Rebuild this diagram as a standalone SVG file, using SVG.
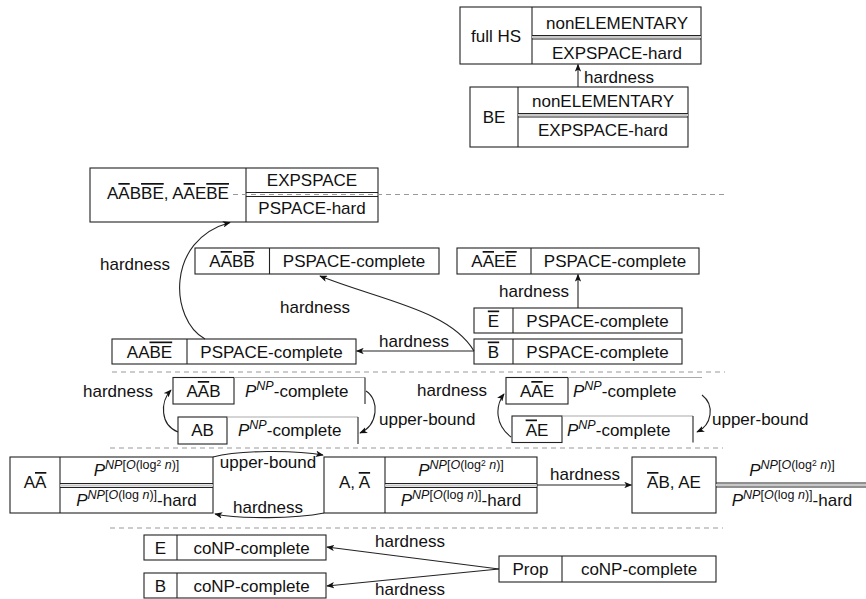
<svg xmlns="http://www.w3.org/2000/svg" width="866" height="599" viewBox="0 0 866 599">
<defs>
<marker id="ah" viewBox="0 0 10 8" refX="9" refY="4" markerWidth="8" markerHeight="6.4" markerUnits="userSpaceOnUse" orient="auto">
<path d="M0,0 L10,4 L0,8 L2.5,4 z" fill="#111"/>
</marker>
<style>
text{font-family:"Liberation Sans",Arial,sans-serif;font-size:17px;fill:#111}
.m{text-anchor:middle}
.i{font-style:italic}
.sup{font-size:12.5px}
.sup2{font-size:8.5px}
.ol{text-decoration:overline}
.box{fill:#fff;stroke:#222;stroke-width:1.1}
.ln{stroke:#222;stroke-width:1.1;fill:none}
.lg{stroke:#aaa;stroke-width:1.1;fill:none}
.gm{stroke:#c8c8c8;stroke-width:2;fill:none}
.dash{stroke:#999;stroke-width:1.1;stroke-dasharray:5 4;fill:none}
.c{stroke:#222;stroke-width:1.1;fill:none;marker-end:url(#ah)}
</style>
</defs>
<rect width="866" height="599" fill="#fff"/>

<g id="n-fullhs">
<rect class="box" x="460" y="7" width="241" height="57"/>
<line class="ln" x1="532" y1="7" x2="532" y2="64"/>
<line class="gm" x1="532" y1="37" x2="701" y2="37"/>
<line class="ln" x1="532" y1="35.5" x2="701" y2="35.5"/>
<line class="ln" x1="532" y1="39" x2="701" y2="39"/>
<text class="m" x="496" y="41.5">full HS</text>
<text class="m" x="617" y="29">nonELEMENTARY</text>
<text class="m" x="617" y="59">EXPSPACE-hard</text>
</g>

<g id="n-be">
<rect class="box" x="470" y="87" width="218" height="60"/>
<line class="ln" x1="518" y1="87" x2="518" y2="147"/>
<line class="gm" x1="518" y1="115" x2="688" y2="115"/>
<line class="ln" x1="518" y1="113.5" x2="688" y2="113.5"/>
<line class="ln" x1="518" y1="117" x2="688" y2="117"/>
<text class="m" x="494" y="122.5">BE</text>
<text class="m" x="603" y="107">nonELEMENTARY</text>
<text class="m" x="603" y="136">EXPSPACE-hard</text>
</g>

<g id="n-aabbe">
<rect class="box" x="90" y="168" width="288" height="54"/>
<line class="ln" x1="246" y1="168" x2="246" y2="222"/>
<line class="ln" x1="246" y1="192.5" x2="378" y2="192.5"/>
<line class="ln" x1="246" y1="196.5" x2="378" y2="196.5"/>
<text class="m" x="168" y="199">A<tspan class="ol">A</tspan>B<tspan class="ol">BE</tspan>, A<tspan class="ol">A</tspan>E<tspan class="ol">BE</tspan></text>
<text class="m" x="312" y="186">EXPSPACE</text>
<text class="m" x="312" y="214">PSPACE-hard</text>
</g>

<g id="separators">
<line class="dash" x1="233" y1="194.5" x2="725" y2="194.5"/>
<line class="dash" x1="112" y1="372" x2="725" y2="372"/>
<line class="dash" x1="110" y1="448" x2="723" y2="448"/>
<line class="dash" x1="110" y1="528" x2="723" y2="528"/>
</g>

<g id="n-aabb">
<rect class="box" x="195" y="248" width="244" height="26"/>
<line class="ln" x1="269.5" y1="248" x2="269.5" y2="274"/>
<text class="m" x="232" y="267">A<tspan class="ol">A</tspan>B<tspan class="ol">B</tspan></text>
<text class="m" x="354" y="267">PSPACE-complete</text>
</g>

<g id="n-aaee">
<rect class="box" x="457" y="248" width="242" height="26"/>
<line class="ln" x1="531" y1="248" x2="531" y2="274"/>
<text class="m" x="494" y="267">A<tspan class="ol">A</tspan>E<tspan class="ol">E</tspan></text>
<text class="m" x="615" y="267">PSPACE-complete</text>
</g>

<g id="n-e-bar">
<rect class="box" x="474" y="308" width="208" height="25"/>
<line class="ln" x1="513" y1="308" x2="513" y2="333"/>
<text class="m" x="493.5" y="326.5"><tspan class="ol">E</tspan></text>
<text class="m" x="597.5" y="326.5">PSPACE-complete</text>
</g>

<g id="n-b-bar">
<rect class="box" x="474" y="339" width="208" height="25"/>
<line class="ln" x1="513" y1="339" x2="513" y2="364"/>
<text class="m" x="493.5" y="357.5"><tspan class="ol">B</tspan></text>
<text class="m" x="597.5" y="357.5">PSPACE-complete</text>
</g>

<g id="n-aabe">
<rect class="box" x="112" y="339" width="244" height="25"/>
<line class="ln" x1="187" y1="339" x2="187" y2="364"/>
<text class="m" x="149.5" y="357.5">AA<tspan class="ol">BE</tspan></text>
<text class="m" x="271.5" y="357.5">PSPACE-complete</text>
</g>

<g id="n-aab">
<rect class="box" x="173" y="377.5" width="61" height="26.5"/>
<line class="lg" x1="234" y1="377.5" x2="365" y2="377.5"/>
<line class="ln" x1="365" y1="377.5" x2="365" y2="404" stroke="#666"/>
<text class="m" x="203.5" y="397">A<tspan class="ol">A</tspan>B</text>
<text x="245" y="397"><tspan class="i">P</tspan><tspan class="sup i" dy="-7">NP</tspan><tspan dy="7">-complete</tspan></text>
</g>

<g id="n-ab">
<rect class="box" x="178" y="417" width="49" height="27"/>
<line class="lg" x1="227" y1="417" x2="358" y2="417"/>
<line class="ln" x1="358" y1="417" x2="358" y2="444" stroke="#666"/>
<text class="m" x="202.5" y="436">AB</text>
<text x="238" y="436"><tspan class="i">P</tspan><tspan class="sup i" dy="-7">NP</tspan><tspan dy="7">-complete</tspan></text>
</g>

<g id="n-aae">
<rect class="box" x="506" y="377.5" width="62" height="26.5"/>
<line class="lg" x1="568" y1="377.5" x2="702" y2="377.5"/>
<text class="m" x="537" y="397">A<tspan class="ol">A</tspan>E</text>
<text x="573" y="397"><tspan class="i">P</tspan><tspan class="sup i" dy="-7">NP</tspan><tspan dy="7">-complete</tspan></text>
</g>

<g id="n-ae-bar">
<rect class="box" x="512" y="416" width="50" height="26.5"/>
<line class="lg" x1="562" y1="416" x2="693" y2="416"/>
<line class="ln" x1="693" y1="416" x2="693" y2="442.5"/>
<text class="m" x="537" y="435.5"><tspan class="ol">A</tspan>E</text>
<text x="567" y="435.5"><tspan class="i">P</tspan><tspan class="sup i" dy="-7">NP</tspan><tspan dy="7">-complete</tspan></text>
</g>

<g id="n-aa-bar">
<rect class="box" x="10" y="457" width="203" height="56"/>
<line class="ln" x1="60" y1="457" x2="60" y2="513"/>
<line class="gm" x1="60" y1="485.5" x2="213" y2="485.5"/>
<line class="ln" x1="60" y1="483.5" x2="213" y2="483.5"/>
<line class="ln" x1="60" y1="487.5" x2="213" y2="487.5"/>
<text class="m" x="35" y="488">A<tspan class="ol">A</tspan></text>
<text class="m" x="136.5" y="476"><tspan class="i">P</tspan><tspan class="sup" dy="-7"><tspan class="i">NP</tspan>[<tspan class="i">O</tspan>(log</tspan><tspan class="sup2" dy="-3">2</tspan><tspan class="sup" dy="3"> <tspan class="i">n</tspan>)]</tspan></text>
<text class="m" x="136.5" y="506"><tspan class="i">P</tspan><tspan class="sup" dy="-7"><tspan class="i">NP</tspan>[<tspan class="i">O</tspan>(log <tspan class="i">n</tspan>)]</tspan><tspan dy="7">-hard</tspan></text>
</g>

<g id="n-a-abar">
<rect class="box" x="324" y="457" width="213" height="56"/>
<line class="ln" x1="385" y1="457" x2="385" y2="513"/>
<line class="gm" x1="385" y1="485.5" x2="537" y2="485.5"/>
<line class="ln" x1="385" y1="483.5" x2="537" y2="483.5"/>
<line class="ln" x1="385" y1="487.5" x2="537" y2="487.5"/>
<text class="m" x="354.5" y="488">A, <tspan class="ol">A</tspan></text>
<text class="m" x="461" y="476"><tspan class="i">P</tspan><tspan class="sup" dy="-7"><tspan class="i">NP</tspan>[<tspan class="i">O</tspan>(log</tspan><tspan class="sup2" dy="-3">2</tspan><tspan class="sup" dy="3"> <tspan class="i">n</tspan>)]</tspan></text>
<text class="m" x="461" y="506"><tspan class="i">P</tspan><tspan class="sup" dy="-7"><tspan class="i">NP</tspan>[<tspan class="i">O</tspan>(log <tspan class="i">n</tspan>)]</tspan><tspan dy="7">-hard</tspan></text>
</g>

<g id="n-abar-b-ae">
<rect class="box" x="632" y="457" width="84" height="56"/>
<line class="gm" x1="716" y1="485" x2="866" y2="485"/>
<line class="ln" x1="716" y1="483" x2="866" y2="483"/>
<line class="ln" x1="716" y1="487" x2="866" y2="487"/>
<text class="m" x="674" y="488"><tspan class="ol">A</tspan>B, AE</text>
<text class="m" x="792" y="476"><tspan class="i">P</tspan><tspan class="sup" dy="-7"><tspan class="i">NP</tspan>[<tspan class="i">O</tspan>(log</tspan><tspan class="sup2" dy="-3">2</tspan><tspan class="sup" dy="3"> <tspan class="i">n</tspan>)]</tspan></text>
<text class="m" x="792" y="506"><tspan class="i">P</tspan><tspan class="sup" dy="-7"><tspan class="i">NP</tspan>[<tspan class="i">O</tspan>(log <tspan class="i">n</tspan>)]</tspan><tspan dy="7">-hard</tspan></text>
</g>

<g id="n-e">
<rect class="box" x="144" y="535" width="182" height="25"/>
<line class="ln" x1="177" y1="535" x2="177" y2="560"/>
<text class="m" x="160.5" y="553.5">E</text>
<text class="m" x="251.5" y="553.5">coNP-complete</text>
</g>

<g id="n-b">
<rect class="box" x="144" y="573" width="182" height="25"/>
<line class="ln" x1="177" y1="573" x2="177" y2="598"/>
<text class="m" x="160.5" y="591.5">B</text>
<text class="m" x="251.5" y="591.5">coNP-complete</text>
</g>

<g id="n-prop">
<rect class="box" x="499" y="556" width="217" height="26"/>
<line class="ln" x1="562" y1="556" x2="562" y2="582"/>
<text class="m" x="530.5" y="575">Prop</text>
<text class="m" x="639" y="575">coNP-complete</text>
</g>

<g id="connectors">
<path class="c" d="M578,87 L578,64.5"/>
<text x="584" y="82.5">hardness</text>
<path class="c" d="M205,339 C170,320 165,240 230,222.5"/>
<text x="100" y="270">hardness</text>
<path class="c" d="M474,351 C450,310 380,300 320,276"/>
<text x="280" y="313">hardness</text>
<path class="c" d="M474,351 L356.5,351"/>
<text x="379" y="347">hardness</text>
<path class="c" d="M578,308 L578,274.5"/>
<text x="499" y="297">hardness</text>
<path class="c" d="M178,432 C160,425 160,402 171,390"/>
<text x="83" y="397">hardness</text>
<path class="c" d="M366,391 C380,400 378,425 360,433"/>
<text x="379" y="425">upper-bound</text>
<path class="c" d="M511,437 C495,425 495,406 504,394"/>
<text x="417" y="396">hardness</text>
<path class="c" d="M702,395 C715,405 712,425 697,432"/>
<text x="712" y="425">upper-bound</text>
<path class="c" d="M213,457 C240,450 295,450 323,455"/>
<text class="m" x="268" y="468">upper-bound</text>
<path class="c" d="M324,513 C295,519 240,519 215,514"/>
<text class="m" x="268" y="513">hardness</text>
<path class="c" d="M537,485 L631.5,485"/>
<text class="m" x="585" y="480">hardness</text>
<path class="c" d="M499,569 L327,547"/>
<text x="375" y="547">hardness</text>
<path class="c" d="M499,569 L327,586"/>
<text x="375" y="595">hardness</text>
</g>
</svg>
